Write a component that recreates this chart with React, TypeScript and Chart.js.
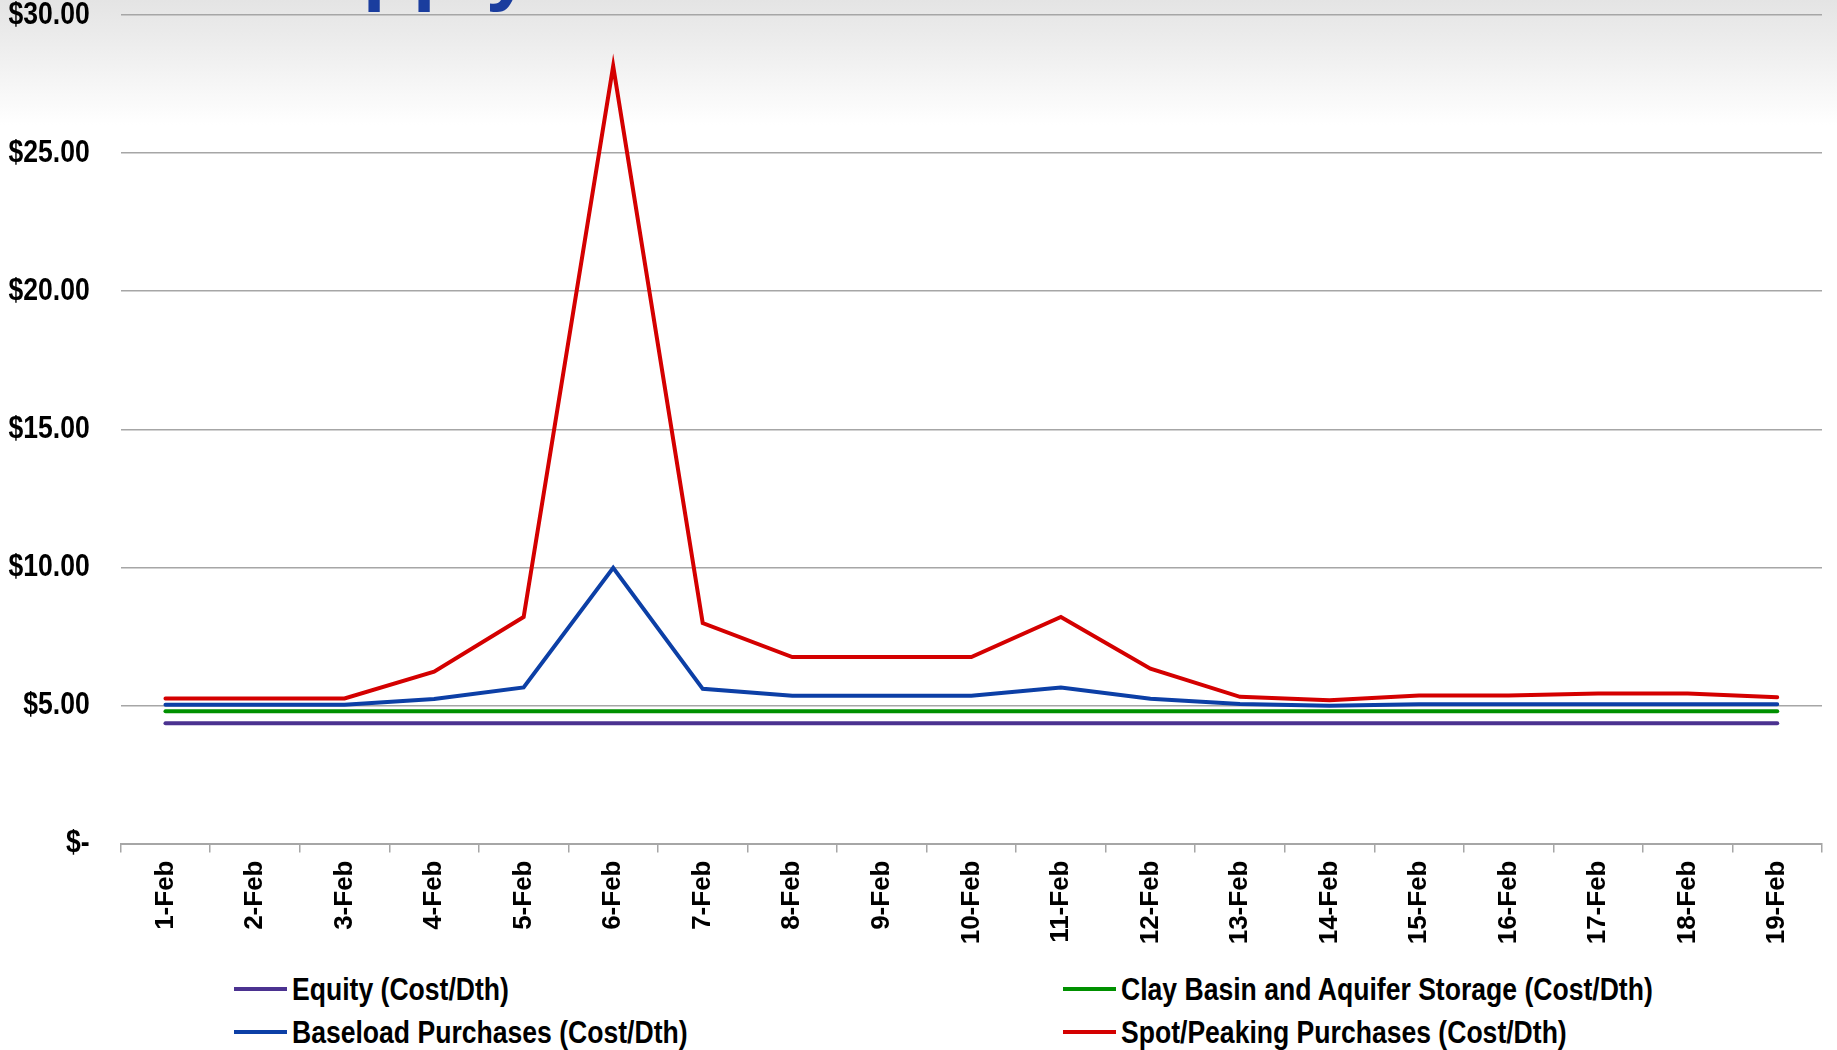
import React, { useEffect, useRef } from "react";
import { Chart, registerables } from "chart.js";

Chart.register(...registerables);

const categories = [
  "1-Feb", "2-Feb", "3-Feb", "4-Feb", "5-Feb", "6-Feb", "7-Feb", "8-Feb", "9-Feb", "10-Feb",
  "11-Feb", "12-Feb", "13-Feb", "14-Feb", "15-Feb", "16-Feb", "17-Feb", "18-Feb", "19-Feb",
];

const equity = [4.35, 4.35, 4.35, 4.35, 4.35, 4.35, 4.35, 4.35, 4.35, 4.35, 4.35, 4.35, 4.35, 4.35, 4.35, 4.35, 4.35, 4.35, 4.35];
const clayBasin = [4.79, 4.79, 4.79, 4.79, 4.79, 4.79, 4.79, 4.79, 4.79, 4.79, 4.79, 4.79, 4.79, 4.79, 4.79, 4.79, 4.79, 4.79, 4.79];
const baseload = [5.02, 5.02, 5.02, 5.23, 5.65, 9.98, 5.6, 5.35, 5.35, 5.35, 5.65, 5.24, 5.05, 4.99, 5.04, 5.04, 5.04, 5.04, 5.04];
const spotPeaking = [5.25, 5.25, 5.25, 6.22, 8.2, 28.15, 7.98, 6.75, 6.75, 6.75, 8.2, 6.33, 5.31, 5.19, 5.36, 5.36, 5.43, 5.43, 5.3];

const yTicks = [0, 5, 10, 15, 20, 25, 30];

const seriesNames = [
  "Equity (Cost/Dth)",
  "Baseload Purchases (Cost/Dth)",
  "Clay Basin and Aquifer Storage (Cost/Dth)",
  "Spot/Peaking Purchases (Cost/Dth)",
];
const seriesColors = ["#4B3290", "#0C3FA6", "#009000", "#D40000"];

const sansFont = "'Liberation Sans', Arial, sans-serif";
const NARROW = 0.83;

const formatY = (v: number) => (v === 0 ? "$-" : "$" + v.toFixed(2));

// draws the y-axis tick labels of the library's y scale in a condensed face
const narrowYLabels = {
  id: "narrowYLabels",
  afterDraw(chart: any) {
    const scale = chart.scales.y;
    const ctx = chart.ctx;
    ctx.save();
    ctx.fillStyle = "#000";
    ctx.font = `bold 32px ${sansFont}`;
    ctx.textAlign = "right";
    ctx.textBaseline = "middle";
    scale.ticks.forEach((t: any) => {
      const y = scale.getPixelForValue(t.value);
      ctx.save();
      ctx.translate(scale.right - 31, y);
      ctx.scale(NARROW, 1);
      ctx.fillText(formatY(Number(t.value)), 0, 0);
      ctx.restore();
    });
    ctx.restore();
  },
};

export default function App() {
  const canvasRef = useRef<HTMLCanvasElement | null>(null);

  useEffect(() => {
    document.body.style.margin = "0";
    const canvas = canvasRef.current;
    if (!canvas) return;
    const chart = new Chart(canvas, {
      type: "line",
      data: {
        labels: categories,
        datasets: [
          { label: seriesNames[0], data: equity, borderColor: seriesColors[0], backgroundColor: seriesColors[0] },
          { label: seriesNames[2], data: clayBasin, borderColor: seriesColors[2], backgroundColor: seriesColors[2] },
          { label: seriesNames[1], data: baseload, borderColor: seriesColors[1], backgroundColor: seriesColors[1] },
          { label: seriesNames[3], data: spotPeaking, borderColor: seriesColors[3], backgroundColor: seriesColors[3] },
        ].map((d) => ({ ...d, borderWidth: 4, pointRadius: 0, tension: 0, borderCapStyle: "round" as const, borderJoinStyle: "miter" as const })),
      },
      plugins: [narrowYLabels],
      options: {
        responsive: false,
        animation: false,
        devicePixelRatio: 1,
        layout: { padding: { top: 15, right: 15, left: 0, bottom: 0 } },
        plugins: { legend: { display: false }, tooltip: { enabled: false } },
        scales: {
          x: {
            type: "category",
            offset: true,
            grid: {
              offset: true,
              drawOnChartArea: false,
              drawTicks: true,
              tickLength: 9,
              color: "#a6a6a6",
              lineWidth: 1.5,
            },
            border: { display: true, color: "#a6a6a6", width: 2 },
            ticks: {
              autoSkip: false,
              minRotation: 90,
              maxRotation: 90,
              padding: 8,
              color: "#000",
              font: { family: sansFont, size: 26, weight: "bold" },
            },
            afterFit: (scale: any) => {
              scale.height = 950 - 843.5;
            },
          },
          y: {
            min: 0,
            max: 30,
            afterBuildTicks: (scale: any) => {
              scale.ticks = yTicks.map((v) => ({ value: v }));
            },
            grid: { drawTicks: false, color: "#a6a6a6", lineWidth: 1.5 },
            border: { display: false },
            ticks: {
              display: false,
              callback: (v: any) => formatY(Number(v)),
            },
            afterFit: (scale: any) => {
              scale.width = 120.7;
              scale.paddingTop = 0;
              scale.paddingBottom = 0;
            },
          },
        },
      },
    });
    return () => chart.destroy();
  }, []);

  const legendItems = [
    { name: seriesNames[0], color: seriesColors[0], x: 234, y: 989 },
    { name: seriesNames[2], color: seriesColors[2], x: 1063, y: 989 },
    { name: seriesNames[1], color: seriesColors[1], x: 234, y: 1032 },
    { name: seriesNames[3], color: seriesColors[3], x: 1063, y: 1032 },
  ];

  return (
    <div
      style={{
        position: "fixed",
        left: 0,
        top: 0,
        width: 1837,
        height: 1050,
        overflow: "hidden",
        background: "linear-gradient(#e4e4e4 0px, #ececec 40px, #ffffff 125px, #ffffff 100%)",
      }}
    >
      <div
        style={{
          position: "absolute",
          left: 258,
          top: -74,
          fontFamily: sansFont,
          fontWeight: "bold",
          fontSize: 82,
          lineHeight: "82px",
          color: "#1A3D9E",
          whiteSpace: "nowrap",
        }}
      >
        Supply
      </div>
      <canvas ref={canvasRef} width={1837} height={950} style={{ position: "absolute", left: 0, top: 0 }} />
      {legendItems.map((it) => (
        <div
          key={it.name}
          style={{
            position: "absolute",
            left: it.x,
            top: it.y - 20,
            height: 40,
            display: "flex",
            alignItems: "center",
            whiteSpace: "nowrap",
          }}
        >
          <span style={{ display: "inline-block", width: 53, height: 4, background: it.color, marginRight: 5 }} />
          <span
            style={{
              display: "inline-block",
              fontFamily: sansFont,
              fontWeight: "bold",
              fontSize: 32,
              color: "#000",
              transform: `scaleX(${NARROW})`,
              transformOrigin: "left center",
            }}
          >
            {it.name}
          </span>
        </div>
      ))}
    </div>
  );
}
